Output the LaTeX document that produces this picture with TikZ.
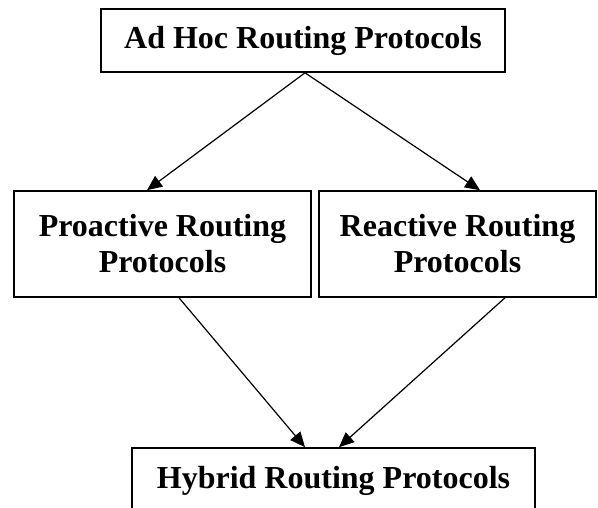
\documentclass[tikz,border=0pt]{standalone}
\usepackage{fontspec}
\setmainfont{Liberation Serif}
\usetikzlibrary{arrows.meta}
\begin{document}
\begin{tikzpicture}[x=1pt,y=1pt,
  box/.style={draw, line width=1.6pt, align=center, inner sep=0pt,
    font=\fontsize{32}{36}\selectfont\bfseries},
  link/.style={line width=1.2pt, -{Triangle[length=15pt,width=13pt]}}]
  \useasboundingbox (0,0) rectangle (598,508);
  \begin{scope}
    \clip (0,0) rectangle (598,508);
    \node[box, minimum width=404pt, minimum height=63pt] (adhoc) at (303,467.5) {Ad Hoc Routing Protocols};
    \node[box, minimum width=297pt, minimum height=106pt] (pro) at (162.5,264) {Proactive Routing\\Protocols};
    \node[box, minimum width=277pt, minimum height=106pt] (re) at (457.5,264) {Reactive Routing\\Protocols};
    \node[box, minimum width=403pt, minimum height=66pt] (hy) at (333.5,27) {Hybrid Routing Protocols};
  \end{scope}
  \draw[link] ([xshift=2pt]adhoc.south) -- ([xshift=-15.5pt]pro.north);
  \draw[link] ([xshift=2pt]adhoc.south) -- ([xshift=22.5pt]re.north);
  \draw[link] ([xshift=16.5pt]pro.south) -- ([xshift=-28.5pt]hy.north);
  \draw[link] ([xshift=47.5pt]re.south) -- ([xshift=5.5pt]hy.north);
\end{tikzpicture}
\end{document}
